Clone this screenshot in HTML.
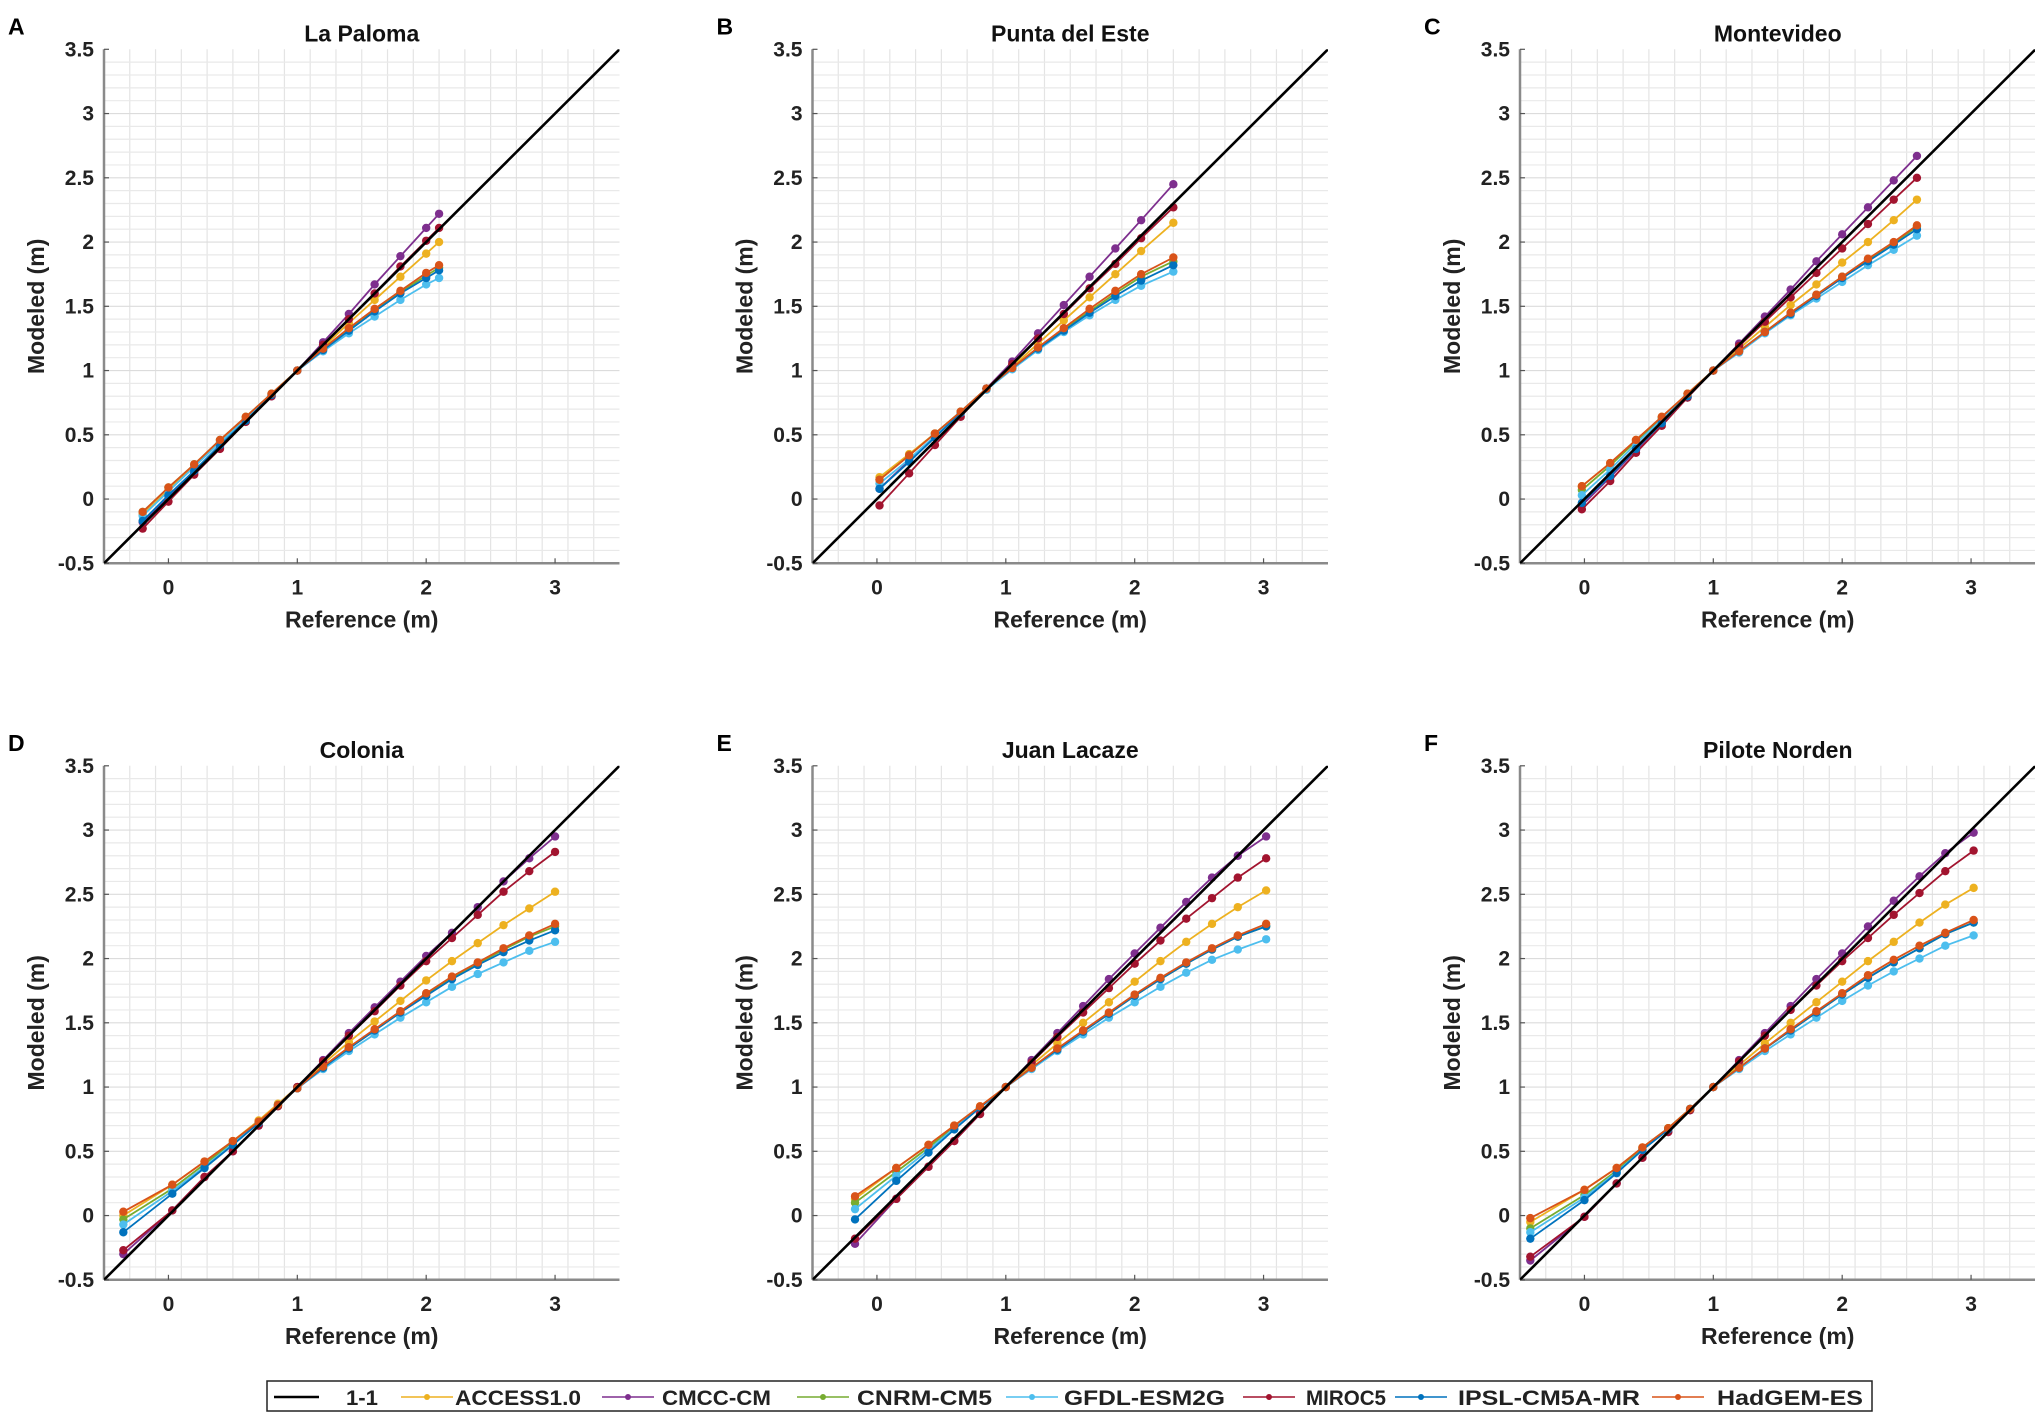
<!DOCTYPE html>
<html><head><meta charset="utf-8">
<style>
html,body{margin:0;padding:0;background:#fff;}
svg{display:block;}
text{font-family:"Liberation Sans",Arial,sans-serif;}
</style></head>
<body>
<svg id="fig" width="2035" height="1412" viewBox="0 0 2035 1412" xmlns="http://www.w3.org/2000/svg"></svg>
<script>
// ---- data ----
const seriesNames = ["ACCESS1.0","CMCC-CM","CNRM-CM5","GFDL-ESM2G","MIROC5","IPSL-CM5A-MR","HadGEM-ES"];
const seriesColors = ["#EDB120","#7E2F8E","#77AC30","#4DBEEE","#A2142F","#0072BD","#D95319"];
const panelTitles = ["La Paloma","Punta del Este","Montevideo","Colonia","Juan Lacaze","Pilote Norden"];
const panelLetters = ["A","B","C","D","E","F"];
const xTicks = [0,1,2,3];
const yTicks = [-0.5,0,0.5,1,1.5,2,2.5,3,3.5];
const yTickLabels = ["-0.5","0","0.5","1","1.5","2","2.5","3","3.5"];

const xA = [-0.2,0,0.2,0.4,0.6,0.8,1.0,1.2,1.4,1.6,1.8,2.0,2.1];
const accessA = [-0.12,0.07,0.26,0.44,0.63,0.81,1.0,1.18,1.37,1.55,1.73,1.91,2.0];
const cmccA   = [-0.18,0.02,0.21,0.41,0.61,0.80,1.0,1.22,1.44,1.67,1.89,2.11,2.22];
const cnrmA   = [-0.10,0.09,0.27,0.46,0.64,0.82,1.0,1.16,1.32,1.47,1.61,1.74,1.80];
const gfdlA   = [-0.13,0.06,0.25,0.44,0.62,0.81,1.0,1.15,1.29,1.42,1.55,1.67,1.72];
const mirocA  = [-0.23,-0.02,0.19,0.39,0.60,0.80,1.0,1.20,1.40,1.60,1.81,2.01,2.11];
const ipslA   = [-0.17,0.03,0.22,0.42,0.61,0.81,1.0,1.16,1.31,1.46,1.60,1.72,1.78];
const hadgemA = [-0.10,0.09,0.27,0.46,0.64,0.82,1.0,1.17,1.33,1.48,1.62,1.76,1.82];

const xB = [0.02,0.25,0.45,0.65,0.85,1.05,1.25,1.45,1.65,1.85,2.05,2.3];
const accessB = [0.17,0.35,0.51,0.68,0.86,1.03,1.21,1.39,1.57,1.75,1.93,2.15];
const cmccB   = [0.08,0.3,0.49,0.68,0.86,1.07,1.29,1.51,1.73,1.95,2.17,2.45];
const cnrmB   = [0.15,0.34,0.51,0.68,0.86,1.02,1.17,1.32,1.46,1.6,1.73,1.85];
const gfdlB   = [0.12,0.31,0.49,0.67,0.85,1.01,1.16,1.30,1.43,1.55,1.66,1.77];
const mirocB  = [-0.05,0.2,0.42,0.64,0.86,1.05,1.25,1.44,1.64,1.83,2.03,2.27];
const ipslB   = [0.08,0.29,0.48,0.67,0.86,1.02,1.17,1.31,1.45,1.58,1.70,1.82];
const hadgemB = [0.15,0.34,0.51,0.68,0.86,1.02,1.18,1.33,1.48,1.62,1.75,1.88];

const xC = [-0.02,0.2,0.4,0.6,0.8,1.0,1.2,1.4,1.6,1.8,2.0,2.2,2.4,2.58];
const accessC = [0.10,0.28,0.46,0.64,0.82,1.0,1.17,1.34,1.51,1.67,1.84,2.0,2.17,2.33];
const cmccC   = [-0.05,0.17,0.38,0.59,0.79,1.0,1.21,1.42,1.63,1.85,2.06,2.27,2.48,2.67];
const cnrmC   = [0.07,0.26,0.45,0.63,0.82,1.0,1.15,1.30,1.45,1.59,1.73,1.86,1.99,2.12];
const gfdlC   = [0.03,0.23,0.43,0.62,0.81,1.0,1.14,1.29,1.43,1.56,1.69,1.82,1.94,2.05];
const mirocC  = [-0.08,0.14,0.36,0.57,0.79,1.0,1.19,1.38,1.57,1.76,1.95,2.14,2.33,2.5];
const ipslC   = [-0.03,0.18,0.39,0.59,0.8,1.0,1.15,1.30,1.44,1.58,1.72,1.85,1.98,2.10];
const hadgemC = [0.10,0.28,0.46,0.64,0.82,1.0,1.15,1.30,1.45,1.59,1.73,1.87,2.0,2.13];

const xD = [-0.35,0.03,0.28,0.5,0.7,0.85,1.0,1.2,1.4,1.6,1.8,2.0,2.2,2.4,2.6,2.8,3.0];
const accessD = [0.0,0.24,0.42,0.58,0.74,0.87,1.0,1.18,1.35,1.51,1.67,1.83,1.98,2.12,2.26,2.39,2.52];
const cmccD   = [-0.3,0.04,0.3,0.5,0.7,0.86,1.0,1.21,1.42,1.62,1.82,2.02,2.2,2.4,2.6,2.78,2.95];
const cnrmD   = [-0.03,0.21,0.4,0.57,0.72,0.86,0.99,1.15,1.3,1.44,1.58,1.72,1.85,1.96,2.07,2.17,2.25];
const gfdlD   = [-0.07,0.19,0.38,0.56,0.72,0.86,0.99,1.14,1.28,1.41,1.54,1.66,1.78,1.88,1.97,2.06,2.13];
const mirocD  = [-0.27,0.04,0.3,0.5,0.7,0.85,1.0,1.2,1.4,1.59,1.79,1.98,2.16,2.34,2.52,2.68,2.83];
const ipslD   = [-0.13,0.17,0.37,0.55,0.72,0.86,0.99,1.15,1.3,1.44,1.58,1.71,1.84,1.95,2.05,2.14,2.22];
const hadgemD = [0.03,0.24,0.42,0.58,0.73,0.86,0.99,1.16,1.31,1.45,1.59,1.73,1.86,1.97,2.08,2.18,2.27];

const xE = [-0.17,0.15,0.4,0.6,0.8,1.0,1.2,1.4,1.6,1.8,2.0,2.2,2.4,2.6,2.8,3.02];
const accessE = [0.13,0.37,0.55,0.7,0.85,1.0,1.17,1.34,1.5,1.66,1.82,1.98,2.13,2.27,2.4,2.53];
const cmccE   = [-0.22,0.13,0.38,0.58,0.79,1.0,1.21,1.42,1.63,1.84,2.04,2.24,2.44,2.63,2.8,2.95];
const cnrmE   = [0.1,0.34,0.53,0.69,0.84,1.0,1.15,1.29,1.43,1.57,1.71,1.84,1.96,2.07,2.17,2.25];
const gfdlE   = [0.05,0.31,0.51,0.68,0.84,1.0,1.14,1.28,1.41,1.54,1.66,1.78,1.89,1.99,2.07,2.15];
const mirocE  = [-0.18,0.13,0.38,0.58,0.79,1.0,1.19,1.39,1.58,1.77,1.96,2.14,2.31,2.47,2.63,2.78];
const ipslE   = [-0.03,0.27,0.49,0.67,0.84,1.0,1.15,1.29,1.43,1.57,1.71,1.84,1.96,2.07,2.17,2.25];
const hadgemE = [0.15,0.37,0.55,0.7,0.85,1.0,1.15,1.3,1.44,1.58,1.72,1.85,1.97,2.08,2.18,2.27];

const xF = [-0.42,0,0.25,0.45,0.65,0.82,1.0,1.2,1.4,1.6,1.8,2.0,2.2,2.4,2.6,2.8,3.02];
const accessF = [-0.05,0.2,0.37,0.53,0.68,0.83,1.0,1.17,1.34,1.5,1.66,1.82,1.98,2.13,2.28,2.42,2.55];
const cmccF   = [-0.35,-0.01,0.25,0.45,0.65,0.82,1.0,1.21,1.42,1.63,1.84,2.04,2.25,2.45,2.64,2.82,2.98];
const cnrmF   = [-0.1,0.16,0.35,0.52,0.68,0.83,1.0,1.15,1.3,1.44,1.58,1.72,1.85,1.97,2.08,2.19,2.28];
const gfdlF   = [-0.13,0.14,0.34,0.51,0.67,0.83,1.0,1.14,1.28,1.41,1.54,1.67,1.79,1.9,2.0,2.1,2.18];
const mirocF  = [-0.32,-0.01,0.25,0.45,0.65,0.82,1.0,1.2,1.4,1.6,1.79,1.98,2.16,2.34,2.51,2.68,2.84];
const ipslF   = [-0.18,0.12,0.33,0.51,0.67,0.83,1.0,1.15,1.3,1.44,1.58,1.72,1.85,1.97,2.08,2.19,2.28];
const hadgemF = [-0.02,0.2,0.37,0.53,0.68,0.83,1.0,1.15,1.3,1.45,1.59,1.73,1.87,1.99,2.1,2.2,2.3];

const panelX = [xA,xB,xC,xD,xE,xF];
const panelY = [
  [accessA,cmccA,cnrmA,gfdlA,mirocA,ipslA,hadgemA],
  [accessB,cmccB,cnrmB,gfdlB,mirocB,ipslB,hadgemB],
  [accessC,cmccC,cnrmC,gfdlC,mirocC,ipslC,hadgemC],
  [accessD,cmccD,cnrmD,gfdlD,mirocD,ipslD,hadgemD],
  [accessE,cmccE,cnrmE,gfdlE,mirocE,ipslE,hadgemE],
  [accessF,cmccF,cnrmF,gfdlF,mirocF,ipslF,hadgemF]
];

// ---- drawing ----
const NS = "http://www.w3.org/2000/svg";
const svg = document.getElementById("fig");
function mk(tag, attrs, parent){
  const e = document.createElementNS(NS, tag);
  for (const k in attrs) e.setAttribute(k, attrs[k]);
  (parent||svg).appendChild(e);
  return e;
}
const colLeft = [104, 812.5, 1520];
const rowTop = [49.3, 765.8];
const W = 515.5, H = 514;
const XMIN=-0.5, XMAX=3.5, YMIN=-0.5, YMAX=3.5;

for (let p=0;p<6;p++){
  const L = colLeft[p%3], T = rowTop[Math.floor(p/3)];
  const sx = v => L + (v-XMIN)/(XMAX-XMIN)*W;
  const sy = v => T + H - (v-YMIN)/(YMAX-YMIN)*H;
  const g = mk("g",{});
  
  
  const cid = "clip"+p;
  const cp = mk("clipPath",{id:cid},g);
  mk("rect",{x:L,y:T,width:W,height:H},cp);
  const grid = mk("g",{},g);
  
  
  for (let i=1;i<20;i++){
    const v = XMIN + i*0.2;
    mk("line",{x1:sx(v),x2:sx(v),y1:T,y2:T+H,stroke:"#e4e4e4","stroke-width":1.2},grid);
  }
  for (let i=1;i<40;i++){
    const v = YMIN + i*0.1;
    const major = Math.abs(v*2-Math.round(v*2))<1e-6;
    mk("line",{x1:L,x2:L+W,y1:sy(v),y2:sy(v),stroke:major?"#dcdcdc":"#e9e9e9","stroke-width":1.2},grid);
  }
  const ax = mk("line",{x1:L,x2:L,y1:T,y2:T+H,stroke:"#8a8a8a","stroke-width":2.5},g);
  
  
  const bx = mk("line",{x1:L,x2:L+W,y1:T+H,y2:T+H,stroke:"#8a8a8a","stroke-width":2.5},g);
  
  
  xTicks.forEach(t=>{
    mk("line",{x1:sx(t),x2:sx(t),y1:T+H,y2:T+H-5,stroke:"#555","stroke-width":1.2},g);
    const tx = mk("text",{x:sx(t),y:T+H+31,"text-anchor":"middle","font-size":21,"font-weight":"bold",fill:"#222"},g);
    tx.textContent = String(t);
    
    
  });
  yTicks.forEach((t,i)=>{
    mk("line",{x1:L,x2:L+5,y1:sy(t),y2:sy(t),stroke:"#555","stroke-width":1.2},g);
    const ty = mk("text",{x:L-10,y:sy(t)+7,"text-anchor":"end","font-size":21,"font-weight":"bold",fill:"#222"},g);
    ty.textContent = yTickLabels[i];
    
    
  });
  const tt = mk("text",{x:L+W/2,y:T-8,"text-anchor":"middle","font-size":23,"font-weight":"bold",fill:"#111"},g);
  tt.textContent = panelTitles[p];
  
  
  const lt = mk("text",{x:L-96,y:T-15,"font-size":23,"font-weight":"bold",fill:"#000"},g);
  lt.textContent = panelLetters[p];
  
  
  const xt = mk("text",{x:L+W/2,y:T+H+64,"text-anchor":"middle","font-size":23,"font-weight":"bold",fill:"#222"},g);
  xt.textContent = "Reference (m)";
  
  
  const yt = mk("text",{x:0,y:0,"text-anchor":"middle","font-size":23,"font-weight":"bold",fill:"#222",transform:`translate(${L-60},${T+H/2}) rotate(-90)`},g);
  yt.textContent = "Modeled (m)";
  
  
  const plot = mk("g",{"clip-path":`url(#${cid})`},g);
  const xs = panelX[p];
  panelY[p].forEach((ys,si)=>{
    const sg = mk("g",{},plot);
    
    
    const pts = xs.map((x,i)=>sx(x).toFixed(1)+","+sy(ys[i]).toFixed(1)).join(" ");
    mk("polyline",{points:pts,fill:"none",stroke:seriesColors[si],"stroke-width":1.8},sg);
    xs.forEach((x,i)=>{
      const c = mk("circle",{cx:sx(x),cy:sy(ys[i]),r:4.2,fill:seriesColors[si]},sg);
      
      
    });
  });
  const one = mk("line",{x1:sx(-0.5),y1:sy(-0.5),x2:sx(3.5),y2:sy(3.5),stroke:"#000","stroke-width":2.6},plot);
  
  
}

// ---- legend ----
const lg = mk("g",{});


mk("rect",{x:267,y:1381,width:1605,height:30,fill:"#fff",stroke:"#222","stroke-width":1.5},lg);
const legLineX = [274,401,602,797,1006,1243,1395,1652];
const legTextX = [346,455,662,857,1064,1306,1458,1717];
const legTextW = [32,126,109,135,161,80,182,146];
const legLabels = ["1-1"].concat(seriesNames);
const legColors = ["#000"].concat(seriesColors);
legLabels.forEach((lab,i)=>{
  const eg = mk("g",{},lg);
  
  
  const y = 1397;
  mk("line",{x1:legLineX[i],x2:legLineX[i]+(i===0?45:52),y1:y,y2:y,stroke:legColors[i],"stroke-width":i===0?2.6:1.5},eg);
  if (i>0) mk("circle",{cx:legLineX[i]+26,cy:y,r:3,fill:legColors[i]},eg);
  const t = mk("text",{x:legTextX[i],y:y+8,"font-size":21,"font-weight":"bold",fill:"#222",textLength:legTextW[i],lengthAdjust:"spacingAndGlyphs"},eg);
  t.textContent = lab;
});
</script>
</body></html>
